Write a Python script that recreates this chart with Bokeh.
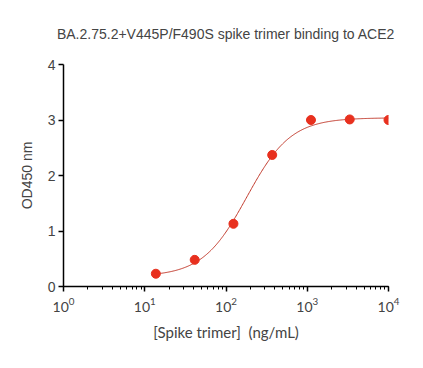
import numpy as np
from bokeh.plotting import figure
from bokeh.models import FixedTicker, ColumnDataSource
from bokeh.embed import file_html
from bokeh.resources import INLINE

# Data
conc = [13.7, 41.2, 123.5, 370.4, 1111.1, 3333.3, 10000.0]
od450 = [0.23, 0.48, 1.13, 2.37, 3.00, 3.01, 3.00]

# 4PL fit parameters (estimated from the drawn curve)
fit_bottom = 0.18
fit_top = 3.04
fit_ec50 = 180.0
fit_hill = 1.6

y_ticks = [0, 1, 2, 3, 4]

title_text = "BA.2.75.2+V445P/F490S spike trimer binding to ACE2"
x_label = "[Spike trimer]\u00a0 (ng/mL)"
y_label = "OD450 nm"

p = figure(width=423, height=368, x_axis_type="log",
           x_range=(1, 10000), y_range=(0, 4),
           output_backend="svg", toolbar_location=None,
           min_border_left=63, min_border_right=35,
           min_border_top=64, min_border_bottom=82)

p.title.text = title_text
p.title.align = "center"
p.title.text_font = "Liberation Sans"
p.title.text_font_size = "14px"
p.title.text_font_style = "normal"
p.title.standoff = 46

p.outline_line_color = None
p.grid.visible = False
p.background_fill_color = "white"
p.border_fill_color = "white"

xc = np.logspace(np.log10(conc[0]), np.log10(conc[-1]), 300)
yc = fit_bottom + (fit_top - fit_bottom) / (1 + (fit_ec50 / xc) ** fit_hill)
p.line(xc, yc, line_color="#c0392b", line_width=1)

src = ColumnDataSource(dict(x=conc, y=od450))
p.scatter("x", "y", source=src, size=9, fill_color="#e8301e", line_color="#e8301e")

xa = p.xaxis[0]
xa.ticker.num_minor_ticks = 10
xa.axis_label = x_label
xa.axis_label_text_font = "Lato"
xa.axis_label_text_font_style = "normal"
xa.axis_label_text_font_size = "15px"
xa.axis_label_standoff = 8
xa.major_label_text_font = "Lato"
xa.major_label_text_font_size = "14px"
xa.major_label_standoff = 6
xa.axis_line_width = 1.5
xa.major_tick_line_width = 1.5
xa.minor_tick_line_width = 1
xa.major_tick_out = 5
xa.major_tick_in = 0
xa.minor_tick_out = 3
xa.minor_tick_in = 0

ya = p.yaxis[0]
ya.ticker = FixedTicker(ticks=y_ticks)
ya.axis_label = y_label
ya.axis_label_text_font = "Liberation Sans"
ya.axis_label_text_font_style = "normal"
ya.axis_label_text_font_size = "14px"
ya.axis_label_standoff = 10
ya.major_label_text_font = "Liberation Sans"
ya.major_label_text_font_size = "14px"
ya.major_label_standoff = 3
ya.axis_line_width = 1.5
ya.major_tick_line_width = 1.5
ya.major_tick_out = 5
ya.major_tick_in = 0
ya.minor_tick_line_color = None

open("out.html", "w").write(file_html(p, INLINE))
